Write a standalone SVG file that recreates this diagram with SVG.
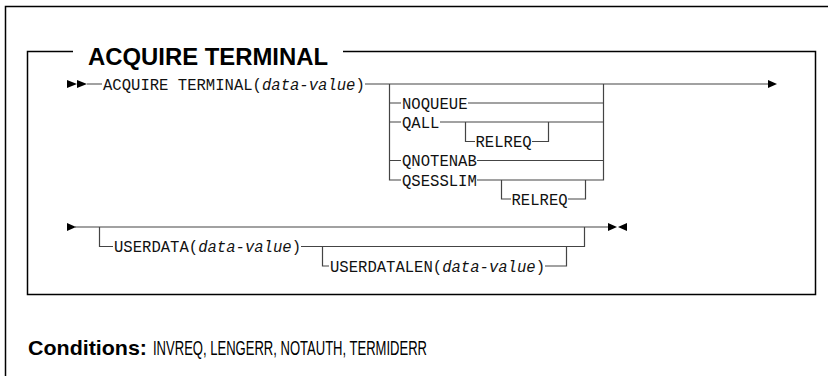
<svg xmlns="http://www.w3.org/2000/svg" width="828" height="376" viewBox="0 0 828 376">
<style>
.frame{fill:none;stroke:#000;stroke-width:1.5}
.ln{fill:none;stroke:#444;stroke-width:1.2}
.mono{font-family:"Liberation Mono","DejaVu Sans Mono",monospace;font-size:16.5px;fill:#111}
.it{font-style:italic}
.ttl{font-family:"Liberation Sans",Arial,sans-serif;font-weight:bold;font-size:24px;fill:#000}
.cond{font-family:"Liberation Sans",Arial,sans-serif;font-size:21px;fill:#000}
.arr{fill:#000}
</style>
<rect width="828" height="376" fill="#fff"/>
<g id="outer-frame">
<path class="frame" d="M5.5 376 V6.5 H828"/>
</g>
<g id="syntax-box">
<path class="frame" d="M73 51.5 H27.5 V294.5 H815.5 V51.5 H343"/>
<text class="ttl" x="88" y="65" textLength="240" lengthAdjust="spacingAndGlyphs">ACQUIRE TERMINAL</text>
</g>
<g id="connectors">
<path class="ln" d="M87 84 H102 M365 84 H768"/>
<path class="ln" d="M389.5 84 V180 H401 M389.5 103 H401 M389.5 122 H401 M389.5 160.5 H401"/>
<path class="ln" d="M603.5 84 V180 H477 M468 103 H603.5 M440 122 H603.5 M477 160.5 H603.5"/>
<path class="ln" d="M465.5 122 V141.5 H475 M532 141.5 H548.5 V122"/>
<path class="ln" d="M501.5 180 V199 H511 M568 199 H585.5 V180"/>
<path class="ln" d="M75 227 H608"/>
<path class="ln" d="M99.5 227 V246.5 H113 M301 246.5 H584.5 V227"/>
<path class="ln" d="M322.5 246.5 V266 H329 M545 266 H566.5 V246.5"/>
</g>
<g id="start-marker">
<polygon class="arr" points="67,80 77,84 67,88"/>
<polygon class="arr" points="77,80 87,84 77,88"/>
</g>
<g id="node-acquire">
<text class="mono" x="103" y="89.5" textLength="261.8" lengthAdjust="spacingAndGlyphs">ACQUIRE TERMINAL(<tspan class="it">data-value</tspan>)</text>
</g>
<g id="end-arrow-1">
<polygon class="arr" points="768,80 777,84 768,88"/>
</g>
<g id="node-noqueue"><text class="mono" x="402" y="108.5" textLength="65.5" lengthAdjust="spacingAndGlyphs">NOQUEUE</text></g>
<g id="node-qall"><text class="mono" x="402" y="127.5" textLength="37.4" lengthAdjust="spacingAndGlyphs">QALL</text></g>
<g id="node-relreq-1"><text class="mono" x="475.5" y="147" textLength="56.1" lengthAdjust="spacingAndGlyphs">RELREQ</text></g>
<g id="node-qnotenab"><text class="mono" x="402" y="166" textLength="74.8" lengthAdjust="spacingAndGlyphs">QNOTENAB</text></g>
<g id="node-qsesslim"><text class="mono" x="402" y="185.5" textLength="74.8" lengthAdjust="spacingAndGlyphs">QSESSLIM</text></g>
<g id="node-relreq-2"><text class="mono" x="511.5" y="204.5" textLength="56.1" lengthAdjust="spacingAndGlyphs">RELREQ</text></g>
<g id="continue-marker">
<polygon class="arr" points="67,223 76,227 67,231"/>
</g>
<g id="node-userdata"><text class="mono" x="114" y="252" textLength="187" lengthAdjust="spacingAndGlyphs">USERDATA(<tspan class="it">data-value</tspan>)</text></g>
<g id="node-userdatalen"><text class="mono" x="330" y="271.5" textLength="215" lengthAdjust="spacingAndGlyphs">USERDATALEN(<tspan class="it">data-value</tspan>)</text></g>
<g id="end-marker">
<polygon class="arr" points="608,223 617,227 608,231"/>
<polygon class="arr" points="627,223 618,227 627,231"/>
</g>
<g id="conditions">
<text class="cond" x="28" y="355" font-weight="bold" textLength="119" lengthAdjust="spacingAndGlyphs">Conditions:</text>
<text class="cond" x="153" y="355" textLength="274" lengthAdjust="spacingAndGlyphs">INVREQ, LENGERR, NOTAUTH, TERMIDERR</text>
</g>
</svg>
